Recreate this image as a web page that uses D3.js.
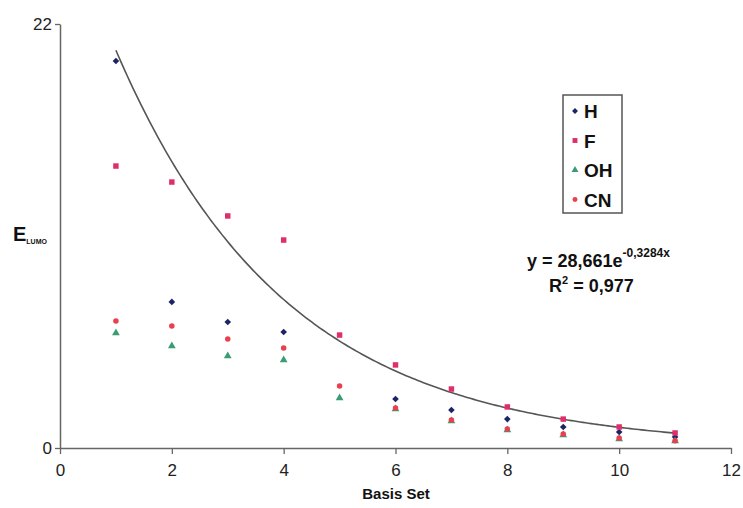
<!DOCTYPE html>
<html>
<head>
<meta charset="utf-8">
<script src="https://cdn.jsdelivr.net/npm/d3@7"></script>
<style>
  body { margin: 0; background: #fff; }
  text { font-family: "Liberation Sans", Arial, sans-serif; }
</style>
</head>
<body>
<div id="chart"></div>
<script>
var basisSets = [1, 2, 3, 4, 5, 6, 7, 8, 9, 10, 11];
var hVals  = [20.08, 7.58, 6.54, 6.02, null, 2.54, 1.97, 1.50, 1.09, 0.83, 0.57];
var fVals  = [14.63, 13.80, 12.04, 10.79, 5.86, 4.31, 3.06, 2.13, 1.50, 1.09, 0.78];
var ohVals = [5.97, 5.29, 4.77, 4.57, 2.59, 2.02, 1.40, 0.93, 0.67, 0.47, 0.36];
var cnVals = [6.59, 6.33, 5.66, 5.19, 3.22, 2.08, 1.45, 0.99, 0.73, 0.52, 0.38];
var xTicks = [0, 2, 4, 6, 8, 10, 12];
var yTicks = [0, 22];
var fitA = 28.661, fitB = -0.3284;

var navy = '#1b2466';
var pink = '#df2f6b';
var green = '#3a9c74';
var red = '#ea3f4e';
var axisGrey = '#666';

var series = [
  {name: 'H',  vals: hVals,  color: navy,  shape: d3.symbolDiamond2, size: 28},
  {name: 'F',  vals: fVals,  color: pink,  shape: d3.symbolSquare,   size: 30},
  {name: 'OH', vals: ohVals, color: green, shape: d3.symbolTriangle, size: 26},
  {name: 'CN', vals: cnVals, color: red,   shape: d3.symbolCircle,   size: 24}
];

var W = 743, H = 508;
var svg = d3.select('#chart').append('svg')
  .attr('width', W)
  .attr('height', H);

var x = d3.scaleLinear().domain([0, 12]).range([60, 731]);
var y = d3.scaleLinear().domain([0, 22]).range([448, 24]);

// axes
var xAxis = svg.append('g')
  .attr('transform', 'translate(0,' + y(0) + ')')
  .call(d3.axisBottom(x).tickValues(xTicks).tickSize(6).tickSizeOuter(0).tickPadding(10));
xAxis.select('.domain').attr('stroke', axisGrey).attr('stroke-width', 1.5);
xAxis.selectAll('.tick line').attr('stroke', axisGrey).attr('stroke-width', 1.3);
xAxis.selectAll('.tick text')
  .style('font-size', '17px')
  .attr('fill', '#222');

var yAxis = svg.append('g')
  .attr('transform', 'translate(' + x(0) + ',0)')
  .call(d3.axisLeft(y).tickValues(yTicks).tickSize(5).tickSizeOuter(0).tickPadding(3));
yAxis.select('.domain').attr('stroke', axisGrey).attr('stroke-width', 1.5);
yAxis.selectAll('.tick line').attr('stroke', axisGrey).attr('stroke-width', 1.3);
yAxis.selectAll('.tick text')
  .style('font-size', '17px')
  .attr('fill', '#222');

// fitted trend
var curvePts = d3.range(1, 11.001, 0.05);
svg.append('path')
  .datum(curvePts)
  .attr('fill', 'none')
  .attr('stroke', '#555')
  .attr('stroke-width', 1.6)
  .attr('d', d3.line()
    .x(function(d) { return x(d); })
    .y(function(d) { return y(fitA * Math.exp(fitB * d)); }));

// points
series.forEach(function(s) {
  var pts = basisSets.map(function(b, i) { return {b: b, v: s.vals[i]}; })
    .filter(function(d) { return d.v != null; });
  svg.append('g').selectAll('path')
    .data(pts).enter()
    .append('path')
      .attr('transform', function(d) { return 'translate(' + x(d.b) + ',' + y(d.v) + ')'; })
      .attr('d', d3.symbol().type(s.shape).size(s.size))
      .attr('fill', s.color);
});

// legend
var legend = svg.append('g').attr('transform', 'translate(563,95)');
legend.append('rect')
  .attr('width', 59)
  .attr('height', 118)
  .attr('fill', '#fff')
  .attr('stroke', '#555')
  .attr('stroke-width', 1.5);
series.forEach(function(s, i) {
  var ly = 16 + i * 29.5;
  legend.append('path')
    .attr('transform', 'translate(12,' + ly + ')')
    .attr('d', d3.symbol().type(s.shape).size(s.size * 0.8))
    .attr('fill', s.color);
  legend.append('text')
    .attr('x', 21)
    .attr('y', ly + 7)
    .style('font-size', '19px')
    .style('font-weight', 'bold')
    .attr('fill', '#111')
    .text(s.name);
});

// equation
var eq = svg.append('text')
  .attr('x', 527)
  .attr('y', 267)
  .style('font-size', '18px')
  .style('font-weight', 'bold')
  .attr('fill', '#111');
eq.append('tspan').text('y = 28,661e');
eq.append('tspan').attr('dy', -10).style('font-size', '12px').text('-0,3284x');

var r2 = svg.append('text')
  .attr('x', 549)
  .attr('y', 292)
  .style('font-size', '18px')
  .style('font-weight', 'bold')
  .attr('fill', '#111');
r2.append('tspan').text('R');
r2.append('tspan').attr('dy', -8).style('font-size', '11px').text('2');
r2.append('tspan').attr('dy', 8).text(' = 0,977');

// axis titles
svg.append('text')
  .attr('x', 396)
  .attr('y', 499)
  .attr('text-anchor', 'middle')
  .style('font-size', '15px')
  .style('font-weight', 'bold')
  .attr('fill', '#111')
  .text('Basis Set');

var yl = svg.append('text')
  .attr('x', 13)
  .attr('y', 241)
  .style('font-weight', 'bold')
  .attr('fill', '#111');
yl.append('tspan').style('font-size', '20px').text('E');
yl.append('tspan').attr('dy', 3).style('font-size', '7px').text('LUMO');
</script>
</body>
</html>
